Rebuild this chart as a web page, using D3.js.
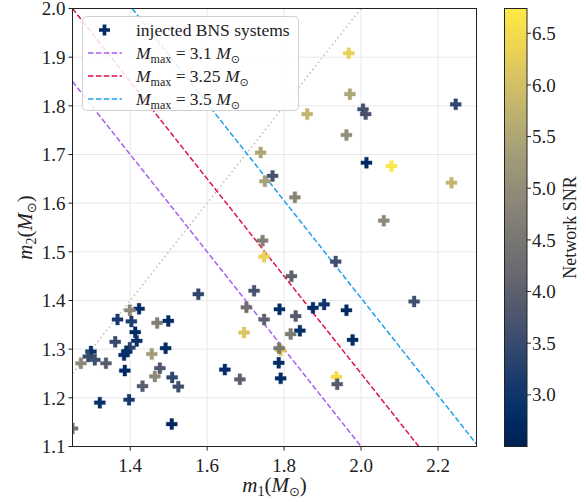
<!DOCTYPE html>
<html><head><meta charset="utf-8">
<script src="https://cdn.jsdelivr.net/npm/d3@7"></script>
<style>body{margin:0;background:#fff}svg{display:block}text{font-family:"Liberation Serif","DejaVu Serif",serif;fill:#222}</style>
</head><body><svg id="c" width="586" height="502"></svg>
<script>
// primary mass m1, secondary mass m2, network SNR
const m1  = [1.577,1.722,1.702,1.748,1.696,1.748,1.423,1.399,1.367,1.403,1.470,1.499,1.413,1.361,1.417,1.399,1.391,1.384,1.492,1.456,1.298,1.291,1.308,1.272,1.337,1.386,1.477,1.464,1.509,1.432,1.525,1.321,1.397,1.508,1.250,1.646,1.685,
             1.934,1.819,2.138,1.788,1.875,1.904,1.962,1.830,1.841,1.817,1.978,1.791,1.787,1.786,1.791,1.936,1.938,
             1.968,1.971,2.005,2.012,2.246,1.860,1.962,1.739,2.014,2.079,2.235,1.750,1.770,1.828,2.059,1.744];
const m2  = [1.413,1.420,1.386,1.361,1.334,1.490,1.383,1.380,1.361,1.357,1.354,1.358,1.335,1.315,1.317,1.303,1.295,1.288,1.302,1.290,1.295,1.285,1.278,1.271,1.271,1.256,1.261,1.244,1.242,1.224,1.223,1.190,1.196,1.146,1.137,1.258,1.238,
             1.480,1.450,1.398,1.382,1.385,1.392,1.380,1.368,1.338,1.331,1.319,1.298,1.302,1.272,1.240,1.243,1.228,
             1.908,1.824,1.793,1.783,1.803,1.783,1.740,1.704,1.683,1.676,1.642,1.645,1.656,1.612,1.564,1.523];
const snr = [3.4,3.7,4.3,4.0,6.1,6.3,2.8,4.9,3.1,3.2,4.7,2.8,2.7,3.5,2.9,3.3,2.9,2.8,2.8,5.3,2.9,3.5,3.6,4.9,3.9,2.7,3.8,4.9,3.4,3.9,3.6,2.9,3.1,2.7,4.4,2.8,4.0,
             3.6,4.0,3.6,2.8,2.8,3.0,2.7,3.9,2.9,4.6,2.8,6.2,4.5,2.8,2.8,6.5,3.9,
             6.3,5.5,3.6,3.7,3.4,5.8,5.0,5.5,2.7,6.7,5.8,5.4,3.7,4.8,4.9,4.7];
// total-mass threshold lines (as drawn) and their legend labels
const lineSums   = [3.1, 3.25, 3.405];
const lineLabels = ["3.1", "3.25", "3.5"];
const lineColors = ["#a65ff2", "#dc1448", "#1fa0ee"];
const xTicks = [1.4, 1.6, 1.8, 2.0, 2.2];
const yTicks = [1.1, 1.2, 1.3, 1.4, 1.5, 1.6, 1.7, 1.8, 1.9, 2.0];
const cTicks = [3.0, 3.5, 4.0, 4.5, 5.0, 5.5, 6.0, 6.5];
const snrDomain = [2.5, 6.74];

const svg = d3.select("#c");
const L = 72.5, R = 476.5, T = 8.5, B = 446.5;
const x = d3.scaleLinear([1.25, 2.3], [L, R]);
const y = d3.scaleLinear([1.1, 2.0], [B, T]);
const color = d3.scaleSequential(d3.interpolateCividis).domain(snrDomain);
const FS = 19;

svg.append("clipPath").attr("id","clip").append("rect").attr("x",L).attr("y",T).attr("width",R-L).attr("height",B-T);

// grid
const g = svg.append("g");
g.selectAll(".gx").data(xTicks).join("line").attr("x1",d=>x(d)).attr("x2",d=>x(d)).attr("y1",T).attr("y2",B).attr("stroke","#e8e8e8").attr("stroke-width",1);
g.selectAll(".gy").data(yTicks).join("line").attr("y1",d=>y(d)).attr("y2",d=>y(d)).attr("x1",L).attr("x2",R).attr("stroke","#e8e8e8").attr("stroke-width",1);

const plot = svg.append("g").attr("clip-path","url(#clip)");
// m1 = m2 diagonal
plot.append("line").attr("x1",x(1.25)).attr("y1",y(1.25)).attr("x2",x(2.0)).attr("y2",y(2.0))
  .attr("stroke","#bdbdbd").attr("stroke-width",1.5).attr("stroke-dasharray","1.5,3");
// threshold lines
lineSums.forEach((s,i)=>{
  const a = Math.max(1.25, s-2.0), b = Math.min(2.3, s-1.1);
  plot.append("line").attr("x1",x(a)).attr("y1",y(s-a)).attr("x2",x(b)).attr("y2",y(s-b))
    .attr("stroke",lineColors[i]).attr("stroke-width",1.5).attr("stroke-dasharray","5.5,2.4");
});
// markers
const W = 11, t = W/3;
function plusPath(cx, cy){
  const a = W/2, h = t/2;
  return `M${cx-h},${cy-a}H${cx+h}V${cy-h}H${cx+a}V${cy+h}H${cx+h}V${cy+a}H${cx-h}V${cy+h}H${cx-a}V${cy-h}H${cx-h}Z`;
}
plot.selectAll(".pt").data(d3.range(m1.length)).join("path")
  .attr("d",i=>plusPath(x(m1[i]),y(m2[i]))).attr("fill",i=>color(snr[i]))
  .attr("stroke",i=>color(snr[i])).attr("stroke-width",0.6).attr("stroke-opacity",0.6);

// frame
svg.append("rect").attr("x",L).attr("y",T).attr("width",R-L).attr("height",B-T).attr("fill","none").attr("stroke","#222").attr("stroke-width",1);

// axes ticks
const ax = svg.append("g");
ax.selectAll(".tx").data(xTicks).join("line").attr("x1",d=>x(d)).attr("x2",d=>x(d)).attr("y1",B).attr("y2",B+4).attr("stroke","#222");
ax.selectAll(".lx").data(xTicks).join("text").attr("x",d=>x(d)).attr("y",B+25).attr("text-anchor","middle").attr("font-size",FS).text(d=>d.toFixed(1));
ax.selectAll(".ty").data(yTicks).join("line").attr("y1",d=>y(d)).attr("y2",d=>y(d)).attr("x1",L-4).attr("x2",L).attr("stroke","#222");
ax.selectAll(".ly").data(yTicks).join("text").attr("x",L-7).attr("y",d=>y(d)).attr("dy","0.36em").attr("text-anchor","end").attr("font-size",FS).text(d=>d.toFixed(1));

// axis labels
function massLabel(sel, idx){
  sel.append("tspan").attr("font-style","italic").text("m");
  sel.append("tspan").attr("font-size",14).attr("dy",4).text(idx);
  sel.append("tspan").attr("dy",-4).text("(");
  sel.append("tspan").attr("font-style","italic").text("M");
  sel.append("tspan").attr("font-size",13).attr("dy",4).attr("font-family","DejaVu Sans").text("⊙");
  sel.append("tspan").attr("dy",-4).text(")");
}
const xl = svg.append("text").attr("x",(L+R)/2).attr("y",492).attr("text-anchor","middle").attr("font-size",21);
massLabel(xl,"1");
const yl = svg.append("text").attr("transform",`translate(32,${(T+B)/2}) rotate(-90)`).attr("text-anchor","middle").attr("font-size",21);
massLabel(yl,"2");

// legend
const lg = svg.append("g");
lg.append("rect").attr("x",82.5).attr("y",16.5).attr("width",216).attr("height",94).attr("rx",4)
  .attr("fill","#fff").attr("fill-opacity",0.85).attr("stroke","#d0d0d0");
lg.append("path").attr("d",plusPath(104.5,30)).attr("fill",color(2.75));
lg.append("text").attr("x",136).attr("y",30).attr("dy","0.35em").attr("font-size",17.5).text("injected BNS systems");
lineLabels.forEach((lab,i)=>{
  const yy = 53 + i*23;
  lg.append("line").attr("x1",88).attr("x2",122).attr("y1",yy).attr("y2",yy).attr("stroke",lineColors[i]).attr("stroke-width",1.5).attr("stroke-dasharray","5.5,2.4");
  const tx = lg.append("text").attr("x",136).attr("y",yy).attr("dy","0.35em").attr("font-size",17.5);
  tx.append("tspan").attr("font-style","italic").text("M");
  tx.append("tspan").attr("font-size",12).attr("dy",4).text("max");
  tx.append("tspan").attr("dy",-4).text(" = " + lab + " ");
  tx.append("tspan").attr("font-style","italic").text("M");
  tx.append("tspan").attr("font-size",11).attr("dy",4).attr("font-family","DejaVu Sans").text("⊙");
});

// colorbar
const CL = 504.5, CR = 527;
const cy = d3.scaleLinear(snrDomain, [B, T]);
const defs = svg.append("defs");
const grad = defs.append("linearGradient").attr("id","cg").attr("x1",0).attr("y1",1).attr("x2",0).attr("y2",0);
d3.range(0,1.0001,0.05).forEach(f=>grad.append("stop").attr("offset",f).attr("stop-color",d3.interpolateCividis(f)));
svg.append("rect").attr("x",CL).attr("y",T).attr("width",CR-CL).attr("height",B-T).attr("fill","url(#cg)").attr("stroke","#222").attr("stroke-width",1);
svg.selectAll(".ct").data(cTicks).join("line").attr("x1",CR).attr("x2",CR+4).attr("y1",d=>cy(d)).attr("y2",d=>cy(d)).attr("stroke","#222");
svg.selectAll(".cl").data(cTicks).join("text").attr("x",CR+5).attr("y",d=>cy(d)).attr("dy","0.35em").attr("font-size",FS).text(d=>d.toFixed(1));
svg.append("text").attr("transform",`translate(570,${(T+B)/2}) rotate(-90)`).attr("text-anchor","middle").attr("dy","0.35em").attr("font-size",18).text("Network SNR");
</script></body></html>
